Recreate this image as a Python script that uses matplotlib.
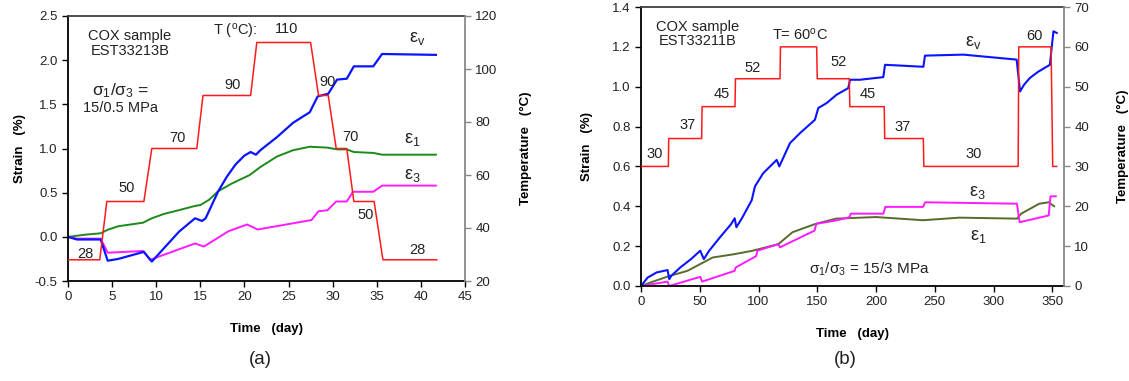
import matplotlib
matplotlib.use("Agg")
import matplotlib.pyplot as plt

plt.rcParams['font.family'] = ['Liberation Sans', 'DejaVu Sans']
plt.rcParams['mathtext.fontset'] = 'custom'
plt.rcParams['mathtext.rm'] = 'Liberation Sans'
plt.rcParams['mathtext.it'] = 'Liberation Sans:italic'
plt.rcParams['mathtext.bf'] = 'Liberation Sans:bold'

# ---------------- (a) EST33213B ----------------
a_temp_day = [0, 3.6, 4.4, 8.6, 9.5, 14.6, 15.3, 20.7, 21.4, 27.5, 28.4, 29.5,
              30.4, 31.6, 32.4, 34.7, 35.7, 41.8]
a_temp = [28, 28, 50, 50, 70, 70, 90, 90, 110, 110, 90, 90, 70, 70, 50, 50, 28, 28]

a_e1_day = [0, 2, 3.7, 4.5, 5.7, 8.5, 9.5, 10.9, 12.5, 14.4, 15.0, 16.0, 17.0,
            18.5, 20.6, 21.8, 23.7, 25.5, 27.4, 29.4, 30.5, 31.6, 32.4, 34.6,
            35.6, 41.7]
a_e1 = [0, 0.025, 0.04, 0.08, 0.12, 0.16, 0.21, 0.26, 0.30, 0.35, 0.36, 0.42,
        0.515, 0.6, 0.70, 0.79, 0.91, 0.98, 1.02, 1.01, 0.99, 0.99, 0.96, 0.95,
        0.93, 0.93]

a_ev_day = [0, 1.0, 3.7, 4.5, 5.7, 8.6, 9.5, 12.6, 14.4, 15.2, 15.6, 17.0, 18.0,
            19.0, 20.0, 20.7, 21.3, 21.8, 23.7, 25.5, 26.6, 27.4, 28.3, 29.5,
            30.5, 31.6, 32.4, 34.6, 35.6, 41.7]
a_ev = [0, -0.03, -0.03, -0.27, -0.25, -0.17, -0.28, 0.06, 0.21, 0.18, 0.21,
        0.51, 0.68, 0.82, 0.92, 0.96, 0.93, 0.98, 1.13, 1.29, 1.36, 1.41, 1.59,
        1.62, 1.78, 1.79, 1.93, 1.93, 2.07, 2.06]

a_e3_day = [0, 1.0, 3.7, 4.5, 8.5, 9.3, 14.4, 15.4, 18.2, 20.3, 21.5, 27.6,
            28.4, 29.4, 30.4, 31.6, 32.3, 34.6, 35.6, 41.7]
a_e3 = [0, -0.02, -0.02, -0.18, -0.16, -0.26, -0.075, -0.11, 0.064, 0.14,
        0.083, 0.19, 0.29, 0.30, 0.40, 0.40, 0.51, 0.51, 0.58, 0.58]

# ---------------- (b) EST33211B ----------------
b_temp_day = [0, 23.3, 23.6, 51.6, 52.0, 80.0, 80.4, 118.3, 118.7, 149.5, 150.0,
              177.3, 177.7, 207.0, 207.4, 240.3, 240.7, 321.0, 321.5, 349.0,
              350.4, 353.8]
b_temp = [30, 30, 37, 37, 45, 45, 52, 52, 60, 60, 52, 52, 45, 45, 37, 37, 30,
          30, 60, 60, 30, 30]

b_ev_day = [0, 5.6, 13.3, 22.6, 24.1, 25.6, 33.4, 42.6, 50.4, 53.5, 58, 67.3,
            76.6, 79.7, 81.2, 85.9, 94.2, 97, 104, 115.5, 117.7, 126.8, 135.3,
            148, 150.9, 158, 166.5, 176.4, 177.9, 186.4, 206.2, 207.7, 240.3,
            241.7, 274.3, 319.7, 322.6, 326, 331, 338, 348, 351, 353.8]
b_ev = [0, 0.042, 0.068, 0.08, 0.034, 0.05, 0.093, 0.135, 0.177, 0.135, 0.177,
        0.245, 0.31, 0.34, 0.295, 0.34, 0.43, 0.50, 0.566, 0.633, 0.60, 0.717,
        0.767, 0.834, 0.893, 0.918, 0.96, 0.993, 1.035, 1.035, 1.048, 1.11,
        1.10, 1.156, 1.161, 1.136, 0.976, 1.01, 1.044, 1.075, 1.11, 1.278, 1.27]

b_e1_day = [0, 11.7, 24, 39.5, 61, 79.7, 95, 116.8, 129, 147.7, 166, 200, 240,
            271, 320, 323.6, 339, 347, 351.6]
b_e1 = [0, 0.025, 0.05, 0.076, 0.143, 0.16, 0.177, 0.21, 0.27, 0.31, 0.338,
        0.346, 0.33, 0.343, 0.338, 0.363, 0.413, 0.42, 0.40]

b_e3_day = [0, 22.6, 24, 50.4, 52, 79.7, 80.6, 98, 99, 116.8, 118.3, 147.7,
            149.2, 166, 177.5, 178.5, 206.3, 207.9, 240, 241.9, 320, 322.2, 347,
            348.5, 353]
b_e3 = [0, 0.022, 0.0, 0.046, 0.022, 0.076, 0.093, 0.15, 0.177, 0.21, 0.194,
        0.278, 0.312, 0.329, 0.345, 0.363, 0.363, 0.397, 0.397, 0.42, 0.413,
        0.32, 0.354, 0.45, 0.45]

a_strain_ticks = [-0.5, 0.0, 0.5, 1.0, 1.5, 2.0, 2.5]
a_temp_ticks = [20, 40, 60, 80, 100, 120]
a_day_ticks = [0, 5, 10, 15, 20, 25, 30, 35, 40, 45]
b_strain_ticks = [0.0, 0.2, 0.4, 0.6, 0.8, 1.0, 1.2, 1.4]
b_temp_ticks = [0, 10, 20, 30, 40, 50, 60, 70]
b_day_ticks = [0, 50, 100, 150, 200, 250, 300, 350]

RED = '#ff1a1a'
BLUE = '#0a14ff'
GREEN = '#1b8a1b'
OLIVE = '#566b2c'
MAGENTA = '#ff1aff'
TEXT = '#222222'
TICK_FS = 9.5
LAB_FS = 9.5

fig = plt.figure(figsize=(11.29, 3.81), dpi=100)


def style_axes(ax, axt):
    ax.spines['left'].set_color('black')
    ax.spines['bottom'].set_color('black')
    ax.spines['top'].set_color('#404040')
    ax.spines['right'].set_visible(False)
    axt.spines['right'].set_color('#888888')
    axt.spines['top'].set_visible(False)
    axt.spines['left'].set_visible(False)
    axt.spines['bottom'].set_visible(False)
    for s in ax.spines.values():
        s.set_linewidth(1.3)
    axt.spines['right'].set_linewidth(1.3)
    ax.tick_params(direction='out', length=4, width=1, labelsize=TICK_FS,
                   colors='black', labelcolor=TEXT)
    axt.tick_params(direction='out', length=4, width=1, labelsize=TICK_FS,
                    colors='#888888', labelcolor=TEXT)


def eps(sub):
    return 'ε$_{\\mathrm{' + sub + '}}$'


# ---- panel (a) ----
ax = fig.add_axes([68 / 1129, 1 - 281 / 381, (465 - 68) / 1129, (281 - 16) / 381])
axt = ax.twinx()
ax.plot(a_e1_day, a_e1, color=GREEN, lw=1.4)
ax.plot(a_e3_day, a_e3, color=MAGENTA, lw=1.4)
ax.plot(a_ev_day, a_ev, color=BLUE, lw=1.6)
axt.plot(a_temp_day, a_temp, color=RED, lw=1.1)
ax.set_xlim(0, 45)
ax.set_ylim(-0.5, 2.5)
axt.set_ylim(20, 120)
ax.set_xticks(a_day_ticks)
ax.set_yticks(a_strain_ticks)
ax.set_yticklabels([f'{v:.1f}' for v in a_strain_ticks])
axt.set_yticks(a_temp_ticks)
style_axes(ax, axt)
ax.set_xlabel('Time   (day)', fontsize=LAB_FS, fontweight='bold', labelpad=14)
ax.set_ylabel('Strain   (%)', fontsize=LAB_FS, fontweight='bold', labelpad=6)
axt.set_ylabel('Temperature   (°C)', fontsize=LAB_FS, fontweight='bold', labelpad=16)

ax.text(7.0, 2.19, 'COX sample\nEST33213B', fontsize=10.5, ha='center',
        va='center', linespacing=1.05, color=TEXT)
ax.text(6.0, 1.66, 'σ$_1$/σ$_3$ =', fontsize=12.5, ha='center', va='center',
        color=TEXT)
ax.text(6.0, 1.46, '15/0.5 MPa', fontsize=10.5, ha='center', va='center',
        color=TEXT)
ax.text(16.4, 2.33, 'T ($^{\\mathrm{o}}$C):', fontsize=10.5, ha='left',
        va='center', color=TEXT)
for x, y, s in [(24.8, 2.35, '110'), (6.7, 0.55, '50'), (12.4, 1.12, '70'),
                (18.7, 1.72, '90'), (29.4, 1.75, '90'), (32.0, 1.13, '70'),
                (33.7, 0.25, '50'), (2.0, -0.19, '28'), (39.6, -0.15, '28')]:
    ax.text(x, y, s, fontsize=10.5, ha='center', va='center', color=TEXT)
ax.text(39.6, 2.24, eps('v'), fontsize=13, ha='center', va='center', color=TEXT)
ax.text(39.0, 1.10, eps('1'), fontsize=13, ha='center', va='center', color=TEXT)
ax.text(39.0, 0.70, eps('3'), fontsize=13, ha='center', va='center', color=TEXT)

# ---- panel (b) ----
bx = fig.add_axes([641 / 1129, 1 - 286 / 381, (1064 - 641) / 1129, (286 - 7) / 381])
bxt = bx.twinx()
bx.plot(b_e1_day, b_e1, color=OLIVE, lw=1.4)
bx.plot(b_e3_day, b_e3, color=MAGENTA, lw=1.4)
bx.plot(b_ev_day, b_ev, color=BLUE, lw=1.5)
bxt.plot(b_temp_day, b_temp, color=RED, lw=1.1)
bx.set_xlim(0, 360)
bx.set_ylim(0, 1.4)
bxt.set_ylim(0, 70)
bx.set_xticks(b_day_ticks)
bx.set_yticks(b_strain_ticks)
bx.set_yticklabels([f'{v:.1f}' for v in b_strain_ticks])
bxt.set_yticks(b_temp_ticks)
style_axes(bx, bxt)
bx.set_xlabel('Time   (day)', fontsize=LAB_FS, fontweight='bold', labelpad=14)
bx.set_ylabel('Strain   (%)', fontsize=LAB_FS, fontweight='bold', labelpad=14)
bxt.set_ylabel('Temperature   (°C)', fontsize=LAB_FS, fontweight='bold', labelpad=20)

bx.text(48.5, 1.265, 'COX sample\nEST33211B', fontsize=10.5, ha='center',
        va='center', linespacing=1.05, color=TEXT)
bx.text(135, 1.26, 'T= 60$^{\\mathrm{o}}$C', fontsize=10.5, ha='center',
        va='center', color=TEXT)
for x, y, s in [(12, 0.66, '30'), (40, 0.81, '37'), (69, 0.965, '45'),
                (95, 1.095, '52'), (168, 1.125, '52'), (193, 0.965, '45'),
                (223, 0.80, '37'), (283, 0.66, '30'), (335, 1.256, '60')]:
    bx.text(x, y, s, fontsize=10.5, ha='center', va='center', color=TEXT)
bx.text(283, 1.22, eps('v'), fontsize=13, ha='center', va='center', color=TEXT)
bx.text(286, 0.467, eps('3'), fontsize=13, ha='center', va='center', color=TEXT)
bx.text(287, 0.246, eps('1'), fontsize=13, ha='center', va='center', color=TEXT)
bx.text(194, 0.084, 'σ$_1$/σ$_3$ = 15/3 MPa', fontsize=11, ha='center',
        va='center', color=TEXT)

fig.text(260 / 1129, 1 - 360 / 381, '(a)', fontsize=13.5, ha='center',
         va='center', color=TEXT)
fig.text(845 / 1129, 1 - 360 / 381, '(b)', fontsize=13.5, ha='center',
         va='center', color=TEXT)

fig.savefig('out.png', dpi=100)
